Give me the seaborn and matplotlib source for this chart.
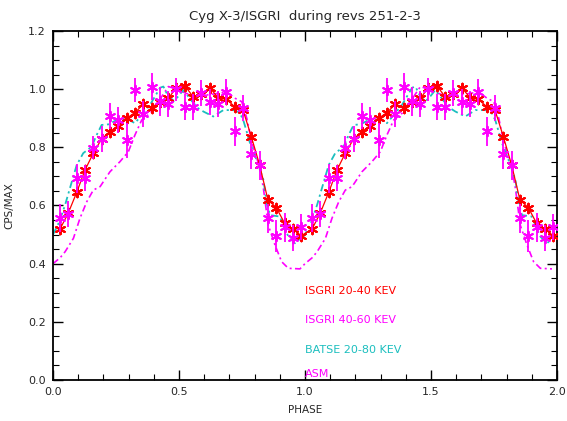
import numpy as np
import pandas as pd
import matplotlib
matplotlib.use("Agg")
import matplotlib.pyplot as plt
import seaborn as sns
from matplotlib.ticker import MultipleLocator, FormatStrFormatter

sns.set_style("white")
plt.rcParams['font.family'] = ['DejaVu Sans']

# ---- data (one orbital cycle; the chart shows the cycle twice) ----
isgri_phase = [0.028, 0.061, 0.094, 0.127, 0.160, 0.193, 0.226, 0.259, 0.292, 0.325,
               0.358, 0.391, 0.424, 0.457, 0.490, 0.523, 0.556, 0.589, 0.622, 0.655,
               0.688, 0.721, 0.754, 0.787, 0.820, 0.853, 0.886, 0.919, 0.952, 0.985]
isgri_lo = [0.519, 0.575, 0.645, 0.722, 0.780, 0.829, 0.854, 0.875, 0.900, 0.919,
            0.948, 0.936, 0.957, 0.968, 1.005, 1.012, 0.974, 0.982, 1.005, 0.971,
            0.965, 0.940, 0.928, 0.837, 0.739, 0.619, 0.593, 0.539, 0.519, 0.496]
isgri_lo_err = [0.015, 0.015, 0.015, 0.015, 0.015, 0.015, 0.015, 0.015, 0.015, 0.015,
                0.015, 0.015, 0.015, 0.015, 0.015, 0.015, 0.015, 0.015, 0.015, 0.015,
                0.015, 0.015, 0.015, 0.015, 0.015, 0.015, 0.015, 0.015, 0.015, 0.015]
isgri_hi = [0.558, 0.571, 0.694, 0.694, 0.799, 0.830, 0.909, 0.894, 0.825, 0.997,
            0.914, 1.009, 0.959, 0.948, 1.000, 0.940, 0.940, 0.986, 0.957, 0.948,
            0.991, 0.856, 0.934, 0.776, 0.739, 0.556, 0.496, 0.525, 0.487, 0.527]
isgri_hi_err = [0.048, 0.045, 0.050, 0.045, 0.040, 0.045, 0.045, 0.045, 0.060, 0.040,
                0.045, 0.045, 0.050, 0.045, 0.040, 0.045, 0.045, 0.045, 0.045, 0.045,
                0.045, 0.050, 0.045, 0.050, 0.050, 0.050, 0.055, 0.050, 0.045, 0.045]

batse_phase = [0.000, 0.025, 0.048, 0.067, 0.094, 0.120, 0.153, 0.173, 0.193, 0.220,
               0.253, 0.290, 0.325, 0.352, 0.385, 0.425, 0.438, 0.458, 0.480, 0.497,
               0.517, 0.550, 0.575, 0.597, 0.636, 0.676, 0.716, 0.740, 0.755, 0.782,
               0.808, 0.835, 0.848, 0.861, 0.900, 0.934, 0.960, 0.974, 0.990]
batse = [0.500, 0.544, 0.602, 0.659, 0.739, 0.780, 0.802, 0.842, 0.877, 0.879,
         0.894, 0.900, 0.883, 0.911, 0.946, 1.005, 1.009, 0.974, 0.960, 0.975,
         0.997, 0.960, 0.935, 0.923, 0.906, 0.928, 0.928, 0.920, 0.894, 0.814,
         0.756, 0.688, 0.608, 0.567, 0.562, 0.493, 0.470, 0.481, 0.490]

asm_phase = [0.000, 0.028, 0.048, 0.081, 0.107, 0.134, 0.160, 0.187, 0.226, 0.266,
             0.299, 0.325, 0.352, 0.385, 0.411, 0.431, 0.458, 0.490, 0.530, 0.570,
             0.610, 0.650, 0.690, 0.722, 0.749, 0.769, 0.788, 0.821, 0.835, 0.854,
             0.881, 0.907, 0.934, 0.960, 0.980]
asm = [0.400, 0.420, 0.441, 0.487, 0.556, 0.613, 0.653, 0.665, 0.716, 0.751,
       0.785, 0.842, 0.894, 0.917, 0.946, 0.974, 1.009, 1.000, 0.985, 0.975,
       0.980, 0.985, 0.990, 0.969, 0.957, 0.900, 0.820, 0.728, 0.659, 0.533,
       0.464, 0.407, 0.384, 0.383, 0.382]

cycles = [0, 1]
legend_labels = ["ISGRI 20-40 KEV", "ISGRI 40-60 KEV", "BATSE 20-80 KEV", "ASM"]

RED = "#ff0000"
MAG = "#ff00ff"
CYAN = "#1cbfbf"

def two_cycles(ph, val, err=None):
    rows = []
    for c in cycles:
        for i, p in enumerate(ph):
            r = {"phase": p + c, "val": val[i]}
            if err is not None:
                r["err"] = err[i]
            rows.append(r)
    return pd.DataFrame(rows)

d_lo = two_cycles(isgri_phase, isgri_lo, isgri_lo_err)
d_hi = two_cycles(isgri_phase, isgri_hi, isgri_hi_err)
d_bat = two_cycles(batse_phase, batse)
d_asm = two_cycles(asm_phase, asm)

fig = plt.figure(figsize=(5.67, 4.21), dpi=100)
ax = fig.add_axes([53/567, 41/421, 504/567, 349/421])

dashdot = (0, (4, 2, 1.2, 2))
sns.lineplot(data=d_asm, x="phase", y="val", ax=ax, color=MAG, lw=1.2,
             linestyle=dashdot, estimator=None, sort=False)
sns.lineplot(data=d_bat, x="phase", y="val", ax=ax, color=CYAN, lw=1.3,
             linestyle=dashdot, estimator=None, sort=False)

# ISGRI 20-40: line + asterisks + small error bars
ax.errorbar(d_lo["phase"], d_lo["val"], yerr=d_lo["err"], fmt="none",
            ecolor=RED, elinewidth=1.0, zorder=3)
sns.lineplot(data=d_lo, x="phase", y="val", ax=ax, color=RED, lw=0.9,
             estimator=None, sort=False, zorder=3)
sns.scatterplot(data=d_lo, x="phase", y="val", ax=ax, marker=(6, 2, 0),
                s=48, color=RED, edgecolor=RED, linewidth=1.5, zorder=4)

# ISGRI 40-60: asterisks + error bars
ax.errorbar(d_hi["phase"], d_hi["val"], yerr=d_hi["err"], fmt="none",
            ecolor=MAG, elinewidth=1.3, zorder=5)
sns.scatterplot(data=d_hi, x="phase", y="val", ax=ax, marker=(6, 2, 0),
                s=48, color=MAG, edgecolor=MAG, linewidth=1.4, zorder=6)

ax.set_xlim(0, 2)
ax.set_ylim(0, 1.2)
ax.xaxis.set_major_locator(MultipleLocator(0.5))
ax.xaxis.set_minor_locator(MultipleLocator(0.1))
ax.yaxis.set_major_locator(MultipleLocator(0.2))
ax.yaxis.set_minor_locator(MultipleLocator(0.05))
ax.xaxis.set_major_formatter(FormatStrFormatter("%.1f"))
ax.yaxis.set_major_formatter(FormatStrFormatter("%.1f"))
ax.tick_params(which="both", direction="in", top=True, right=True,
               bottom=True, left=True, color="black", labelsize=8)
ax.tick_params(which="major", length=7, width=1.0, pad=5)
ax.tick_params(which="minor", length=4, width=0.8)
for s in ax.spines.values():
    s.set_visible(True)
    s.set_color("black")
    s.set_linewidth(1.3)

ax.set_xlabel("PHASE", fontsize=7.5, labelpad=6)
ax.set_ylabel("CPS/MAX", fontsize=7.5, labelpad=10)
ax.set_title("Cyg X-3/ISGRI  during revs 251-2-3", fontsize=9.5, pad=8)

leg_colors = [RED, MAG, CYAN, MAG]
leg_y = [0.305, 0.205, 0.102, 0.022]
for lab, col, yy in zip(legend_labels, leg_colors, leg_y):
    ax.text(1.0, yy, lab, color=col, fontsize=8, ha="left", va="center")

fig.savefig("out.png", dpi=100)
